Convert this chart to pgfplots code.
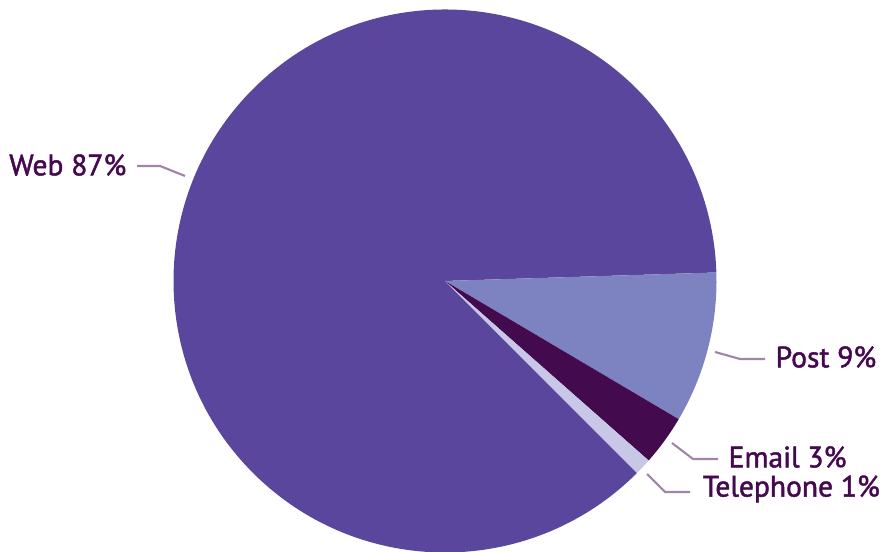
\documentclass[border=0pt]{standalone}
\usepackage{pgfplots}
\pgfplotsset{compat=1.18}
\usepackage{pgfplotstable}
\usepackage{fontspec}
\setmainfont[FakeBold=1.6]{PT Sans}
\definecolor{cWeb}{HTML}{5A469C}
\definecolor{cPost}{HTML}{7C83C0}
\definecolor{cEmail}{HTML}{440A4E}
\definecolor{cTel}{HTML}{C8C8E6}
\definecolor{txt}{HTML}{45094F}
\definecolor{lead}{HTML}{A085A8}
\pgfplotstableread{
label value
Web 87
Post 9
Email 3
Telephone 1
}\piedata
\gdef\cum{0}
\pgfplotstableforeachcolumnelement{value}\of\piedata\as\v{%
  \pgfmathsetmacro\sa{-45-3.6*\cum}%
  \pgfmathsetmacro\ea{-45-3.6*(\cum+\v)}%
  \expandafter\xdef\csname s\pgfplotstablerow\endcsname{\sa}%
  \expandafter\xdef\csname e\pgfplotstablerow\endcsname{\ea}%
  \pgfmathsetmacro\c{\cum+\v}\xdef\cum{\c}%
}
\begin{document}
\begin{tikzpicture}
\begin{axis}[x=1cm,y=1cm,xmin=0,xmax=8.89,ymin=0,ymax=5.52,hide axis,clip=false,
  font=\fontsize{8.4}{10}\selectfont]
\coordinate (bl) at (axis cs:0,0);
\coordinate (tr) at (axis cs:8.89,5.52);
\pgfplotsinvokeforeach{0,1,2,3}{%
  \fill[color=\ifcase#1 cWeb\or cPost\or cEmail\or cTel\fi]
    (axis cs:4.45,2.71) -- ++(\csname s#1\endcsname:2.715)
    arc[start angle=\csname s#1\endcsname, end angle=\csname e#1\endcsname, radius=2.715cm] -- cycle;
}
\draw[lead,line width=0.6pt] (axis cs:1.37,3.86) -- (axis cs:1.60,3.86) -- (axis cs:1.85,3.76);
\draw[lead,line width=0.6pt] (axis cs:7.15,2.00) -- (axis cs:7.40,1.93) -- (axis cs:7.65,1.93);
\draw[lead,line width=0.6pt] (axis cs:6.72,1.09) -- (axis cs:6.93,0.93) -- (axis cs:7.18,0.93);
\draw[lead,line width=0.6pt] (axis cs:6.47,0.78) -- (axis cs:6.65,0.60) -- (axis cs:6.90,0.60);
\node[txt,anchor=east,inner sep=0pt] at (axis cs:1.27,3.87) {Web 87\%};
\node[txt,anchor=west,inner sep=0pt] at (axis cs:7.75,1.95) {Post 9\%};
\node[txt,anchor=west,inner sep=0pt] at (axis cs:7.28,0.95) {Email 3\%};
\node[txt,anchor=west,inner sep=0pt] at (axis cs:7.02,0.63) {Telephone 1\%};
\end{axis}
\pgfresetboundingbox
\path[use as bounding box] (bl) rectangle (tr);
\end{tikzpicture}
\end{document}
